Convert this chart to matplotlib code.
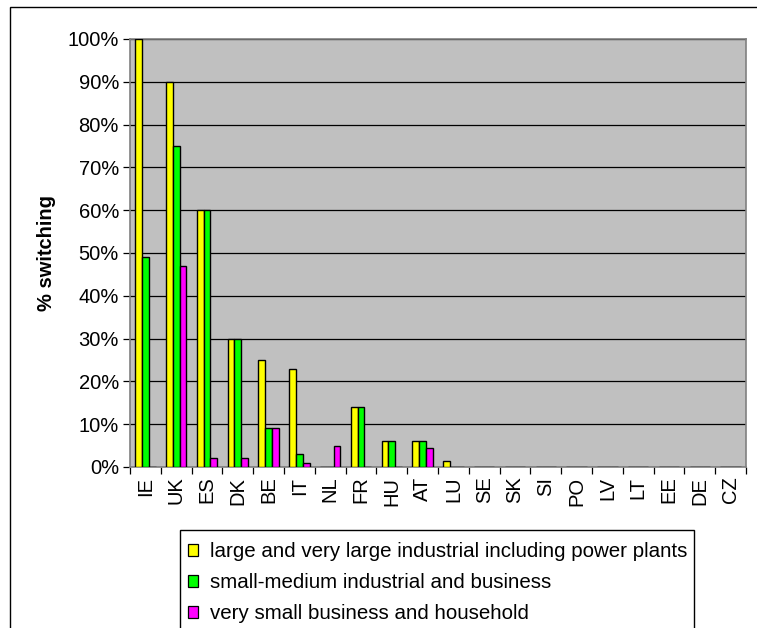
import numpy as np
import matplotlib
matplotlib.use('Agg')
import matplotlib.pyplot as plt
from matplotlib.patches import Patch, Rectangle
from matplotlib.ticker import FuncFormatter

plt.rcParams['font.family'] = ['Liberation Sans', 'DejaVu Sans']

countries = ['IE', 'UK', 'ES', 'DK', 'BE', 'IT', 'NL', 'FR', 'HU', 'AT',
             'LU', 'SE', 'SK', 'SI', 'PO', 'LV', 'LT', 'EE', 'DE', 'CZ']
large = [100, 90, 60, 30, 25, 23, 0, 14, 6, 6, 1.5, 0, 0, 0, 0, 0, 0, 0, 0, 0]
medium = [49, 75, 60, 30, 9, 3, 0, 14, 6, 6, 0, 0, 0, 0, 0, 0, 0, 0, 0, 0]
small = [0, 47, 2, 2, 9, 1, 5, 0, 0, 4.5, 0, 0, 0, 0, 0, 0, 0, 0, 0, 0]

series_names = ['large and very large industrial including power plants',
                'small-medium industrial and business',
                'very small business and household']
colors = ['#ffff00', '#00ff00', '#ff00ff']

W, H = 757, 628
FS = 14.5
fig = plt.figure(figsize=(W / 100, H / 100), dpi=100)

# outer chart border (cut at right and bottom like the reference)
fig.patches.append(Rectangle((10 / W, -0.1), 1.2, (H - 7) / H + 0.1,
                             transform=fig.transFigure, fill=False,
                             edgecolor='black', linewidth=1.0))

left, right, top, bottom = 130, 746, 39, 467
ax = fig.add_axes([left / W, (H - bottom) / H, (right - left) / W, (bottom - top) / H])
ax.set_facecolor('#c0c0c0')
for s in ax.spines.values():
    s.set_color('#808080')
    s.set_linewidth(1.2)

n = len(countries)
x = np.arange(n)
bw = 1 / 4.5
for k, (vals, c) in enumerate(zip([large, medium, small], colors)):
    ax.bar(x + (k - 1) * bw, vals, width=bw, color=c, edgecolor='black',
           linewidth=1.0, zorder=3)

ax.set_xlim(-0.5, n - 0.5)
ax.set_ylim(0, 100)
ax.set_yticks(np.arange(0, 101, 10))
ax.yaxis.set_major_formatter(FuncFormatter(lambda v, p: '%d%%' % v))
ax.grid(axis='y', color='black', linewidth=0.9, zorder=1)
ax.tick_params(axis='y', direction='out', length=5, width=0.9, labelsize=FS,
               color='black', pad=3)

ax.set_xticks(np.arange(-0.5, n, 1.0))
ax.set_xticklabels([])
ax.tick_params(axis='x', which='major', direction='out', length=5, width=0.9,
               color='black')
ax.set_xticks(x, minor=True)
ax.set_xticklabels(countries, minor=True, rotation=90, fontsize=FS)
ax.tick_params(axis='x', which='minor', length=0, pad=7)

ax.set_ylabel('% switching', fontsize=FS, fontweight='bold', labelpad=8)

# legend box, its bottom runs off the picture as in the reference
fig.patches.append(Rectangle((180 / W, -0.1), (694 - 180) / W, (H - 530) / H + 0.1,
                             transform=fig.transFigure, fill=False,
                             edgecolor='black', linewidth=1.0))
handles = [Patch(facecolor=c, edgecolor='black', linewidth=0.9) for c in colors]
leg = fig.legend(handles, series_names, loc='upper left',
                 bbox_to_anchor=(181 / W, (H - 535) / H),
                 fontsize=14.8, frameon=False,
                 handlelength=0.5, handleheight=0.5, handletextpad=0.55,
                 labelspacing=0.58, borderpad=0.35, borderaxespad=0)

fig.savefig('out.png', dpi=100)
